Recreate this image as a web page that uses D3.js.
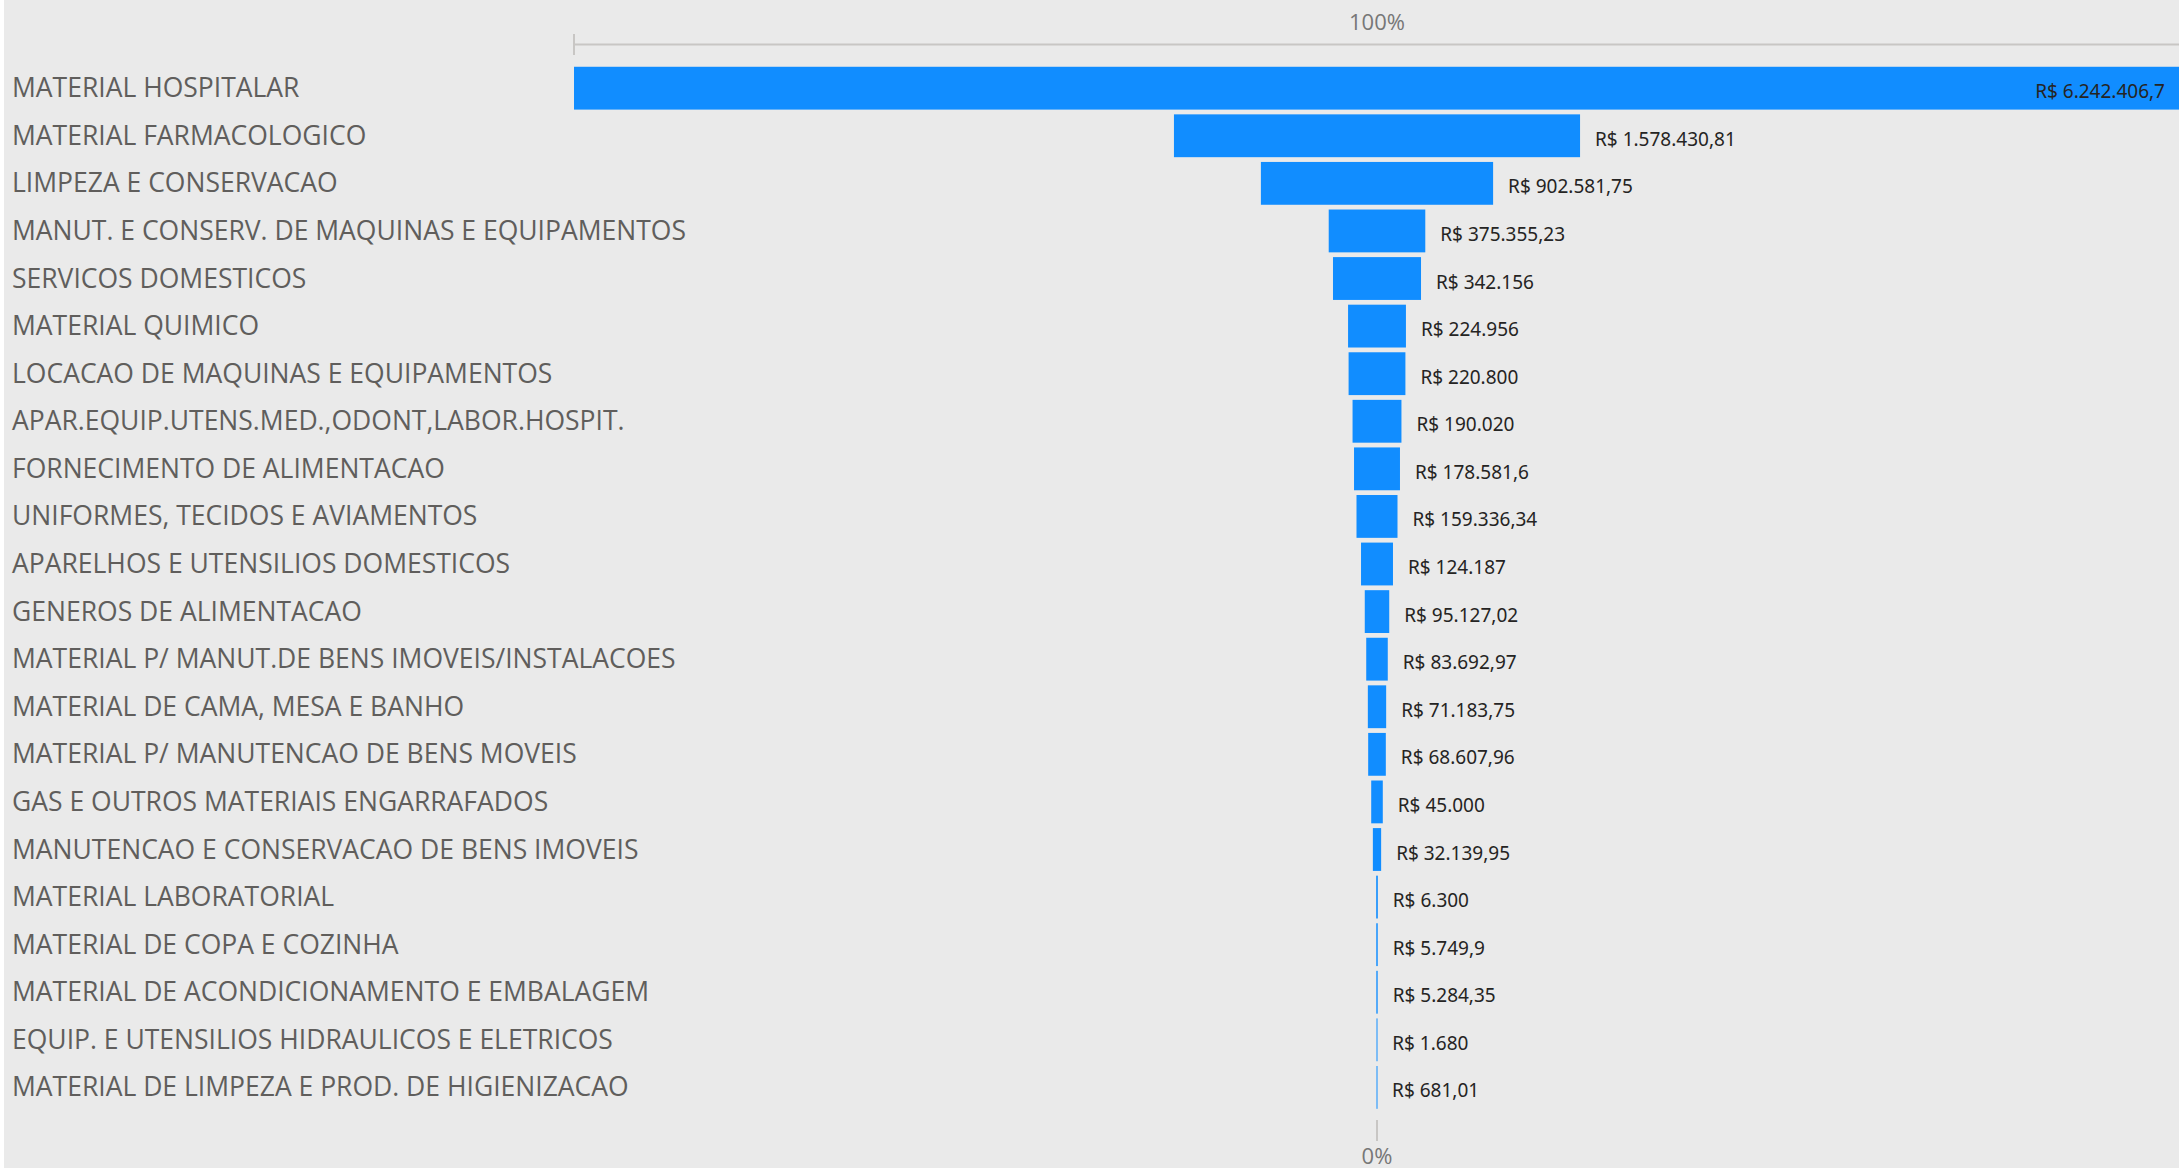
<!DOCTYPE html>
<html>
<head>
<meta charset="utf-8">
<script src="https://cdn.jsdelivr.net/npm/d3@7"></script>
<style>
  body { margin: 0; background: #fff; }
  svg { display: block; }
</style>
</head>
<body>
<svg width="2179" height="1171"></svg>
<script>
const categories = [
    "MATERIAL HOSPITALAR",
    "MATERIAL FARMACOLOGICO",
    "LIMPEZA E CONSERVACAO",
    "MANUT. E CONSERV. DE MAQUINAS E EQUIPAMENTOS",
    "SERVICOS DOMESTICOS",
    "MATERIAL QUIMICO",
    "LOCACAO DE MAQUINAS E EQUIPAMENTOS",
    "APAR.EQUIP.UTENS.MED.,ODONT,LABOR.HOSPIT.",
    "FORNECIMENTO DE ALIMENTACAO",
    "UNIFORMES, TECIDOS E AVIAMENTOS",
    "APARELHOS E UTENSILIOS DOMESTICOS",
    "GENEROS DE ALIMENTACAO",
    "MATERIAL P/ MANUT.DE BENS IMOVEIS/INSTALACOES",
    "MATERIAL DE CAMA, MESA E BANHO",
    "MATERIAL P/ MANUTENCAO DE BENS MOVEIS",
    "GAS E OUTROS MATERIAIS ENGARRAFADOS",
    "MANUTENCAO E CONSERVACAO DE BENS IMOVEIS",
    "MATERIAL LABORATORIAL",
    "MATERIAL DE COPA E COZINHA",
    "MATERIAL DE ACONDICIONAMENTO E EMBALAGEM",
    "EQUIP. E UTENSILIOS HIDRAULICOS E ELETRICOS",
    "MATERIAL DE LIMPEZA E PROD. DE HIGIENIZACAO"
];

const values = [
    6242406.7, 1578430.81, 902581.75, 375355.23, 342156, 224956, 220800,
    190020, 178581.6, 159336.34, 124187, 95127.02, 83692.97, 71183.75,
    68607.96, 45000, 32139.95, 6300, 5749.9, 5284.35, 1680, 681.01
];

const axisLabels = ["100%", "0%"];

const svg = d3.select("svg");
const W = +svg.attr("width");
const H = +svg.attr("height");

// background (white strip on the left / bottom like the screenshot)
svg.append("rect").attr("width", W).attr("height", H).attr("fill", "#ffffff");
svg.append("rect").attr("x", 4).attr("width", W - 4).attr("height", H - 3).attr("fill", "#eaeaea");

const cx = 1377;
const fullWidth = 1606;

// Scales
const xScale = d3.scaleLinear().domain([0, d3.max(values)]).range([0, fullWidth]);
const yScale = d3.scaleBand()
    .domain(categories)
    .range([64.4, 1111.2])
    .paddingInner(0.1)
    .paddingOuter(0.05);

// pt-BR currency text
const ptBR = d3.formatLocale({ decimal: ",", thousands: ".", grouping: [3], currency: ["R$ ", ""] });
const fmt = ptBR.format(",.2f");
function money(v) {
    let s = fmt(v);
    if (s.includes(",")) s = s.replace(/0+$/, "").replace(/,$/, "");
    return "R$ " + s;
}

const fontCat = "'Open Sans', 'Noto Sans', sans-serif";
const leftEdge = cx - xScale(d3.max(values)) / 2;

// top axis (100%)
const topAxis = svg.append("g");
topAxis.append("line")
    .attr("x1", leftEdge).attr("x2", W)
    .attr("y1", 44.5).attr("y2", 44.5)
    .attr("stroke", "#c8c6c4").attr("stroke-width", 2);
topAxis.append("line")
    .attr("x1", leftEdge).attr("x2", leftEdge)
    .attr("y1", 34).attr("y2", 55)
    .attr("stroke", "#c8c6c4").attr("stroke-width", 2);
topAxis.append("text")
    .attr("x", cx).attr("y", 21)
    .attr("text-anchor", "middle").attr("dominant-baseline", "central")
    .attr("font-family", fontCat).attr("font-size", 22).attr("fill", "#777")
    .text(axisLabels[0]);

// bottom axis (0%)
svg.append("line")
    .attr("x1", cx).attr("x2", cx)
    .attr("y1", 1120).attr("y2", 1141)
    .attr("stroke", "#c8c6c4").attr("stroke-width", 2);
svg.append("text")
    .attr("x", cx).attr("y", 1155)
    .attr("text-anchor", "middle").attr("dominant-baseline", "central")
    .attr("font-family", fontCat).attr("font-size", 22).attr("fill", "#777")
    .text(axisLabels[1]);

const data = categories.map((c, i) => ({ cat: c, value: values[i] }));

// category labels
svg.append("g").selectAll("text")
    .data(data)
    .join("text")
    .attr("x", 12)
    .attr("y", d => yScale(d.cat) + yScale.bandwidth() / 2 - 1)
    .attr("dominant-baseline", "central")
    .attr("font-family", fontCat)
    .attr("font-size", 26.5)
    .attr("fill", "#605e5c")
    .text(d => d.cat);

// bars
svg.append("g").selectAll("rect")
    .data(data)
    .join("rect")
    .attr("x", d => cx - Math.max(xScale(d.value), 1) / 2)
    .attr("y", d => yScale(d.cat))
    .attr("width", d => Math.max(xScale(d.value), 1))
    .attr("height", yScale.bandwidth())
    .attr("fill", "#118dff");

// value labels
const labels = svg.append("g").selectAll("text")
    .data(data)
    .join("text")
    .attr("y", d => yScale(d.cat) + yScale.bandwidth() / 2 + 3)
    .attr("dominant-baseline", "central")
    .attr("font-family", "'Noto Sans', 'Open Sans', sans-serif")
    .attr("font-size", 19)
    .attr("fill", "#252423")
    .text(d => money(d.value));

labels.each(function(d) {
    const t = d3.select(this);
    const len = this.getComputedTextLength();
    const right = cx + xScale(d.value) / 2;
    if (right + 15 + len > W - 4) {
        t.attr("x", Math.min(right, W) - 14).attr("text-anchor", "end");
    } else {
        t.attr("x", right + 15).attr("text-anchor", "start");
    }
});
</script>
</body>
</html>
